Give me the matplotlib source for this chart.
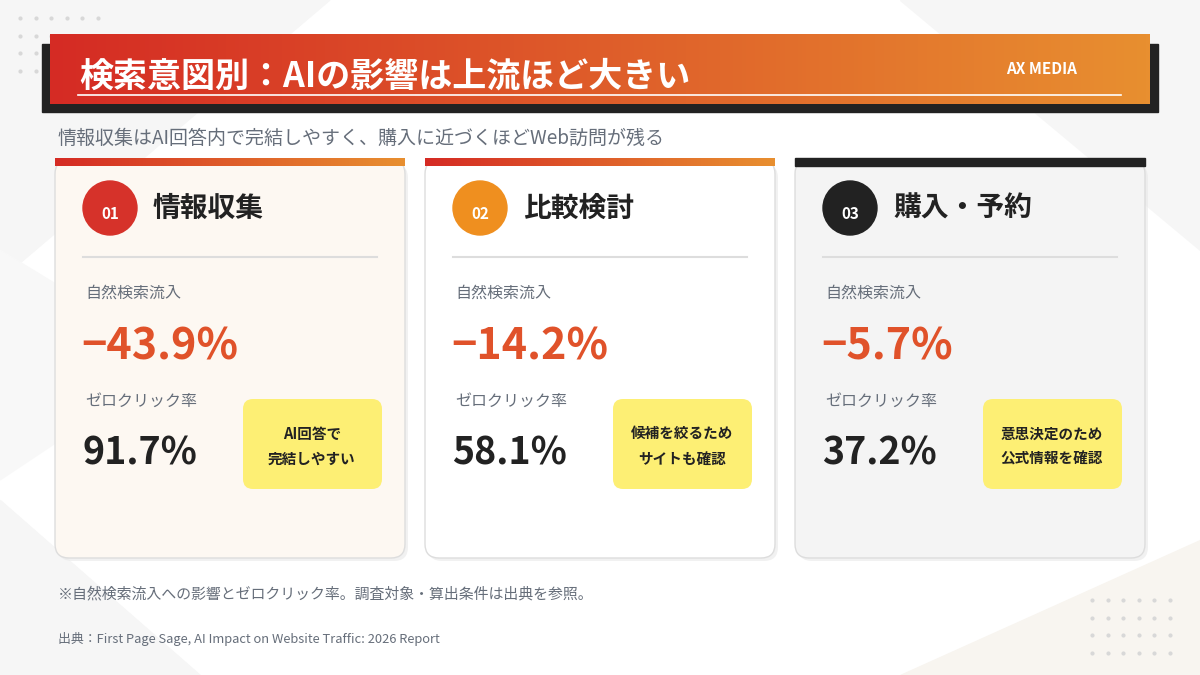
import numpy as np
import matplotlib.pyplot as plt
from matplotlib.patches import Rectangle, FancyBboxPatch, Circle, Polygon
from matplotlib.colors import LinearSegmentedColormap

plt.rcParams['font.family'] = ['Noto Sans CJK JP', 'DejaVu Sans']

title = '検索意図別：AIの影響は上流ほど大きい'
subtitle = '情報収集はAI回答内で完結しやすく、購入に近づくほどWeb訪問が残る'
stages = ['情報収集', '比較検討', '購入・予約']
numbers = ['01', '02', '03']
organic_change = [-43.9, -14.2, -5.7]
zero_click = [91.7, 58.1, 37.2]
notes = ['AI回答で\n完結しやすい', '候補を絞るため\nサイトも確認', '意思決定のため\n公式情報を確認']
footnote = '※自然検索流入への影響とゼロクリック率。調査対象・算出条件は出典を参照。'
source = '出典：First Page Sage, AI Impact on Website Traffic: 2026 Report'

circle_colors = ['#d6322a', '#ef8f1f', '#222222']
card_fills = ['#fdf8f2', '#ffffff', '#f4f4f4']

fig = plt.figure(figsize=(12, 6.75), dpi=100)
ax = fig.add_axes([0, 0, 1, 1])
ax.set_xlim(0, 1200)
ax.set_ylim(675, 0)
ax.axis('off')

# background shapes
ax.add_patch(Polygon([[0, 0], [330, 0], [0, 280]], color='#f6f6f6', zorder=0))
ax.add_patch(Polygon([[900, 0], [1200, 0], [1200, 250]], color='#f6f6f6', zorder=0))
ax.add_patch(Polygon([[0, 500], [0, 675], [200, 675]], color='#f6f6f6', zorder=0))
ax.add_patch(Polygon([[900, 675], [1200, 675], [1200, 540]], color='#f8f5f0', zorder=0))
ax.add_patch(Polygon([[0, 250], [0, 480], [180, 360]], color='#f8f8f8', zorder=0))
for gx, gy in [(20, 18), (1092, 600)]:
    xs, ys = np.meshgrid(np.arange(6) * 15.5 + gx, np.arange(4) * 17.5 + gy)
    ax.scatter(xs.ravel(), ys.ravel(), s=4, color='#d8d8d8', zorder=1)

# title bar
ax.add_patch(Rectangle((42, 44), 1116, 68, color='#222222', zorder=2))
grad = np.linspace(0, 1, 256).reshape(1, -1)
cmap = LinearSegmentedColormap.from_list('g', ['#d52b24', '#e88f30'])
ax.imshow(grad, extent=(50, 1150, 104, 34), cmap=cmap, aspect='auto', zorder=3)
ax.text(79, 76, title, color='white', fontsize=24.5, fontweight='bold', va='center', zorder=4)
ax.plot([78, 1121], [95, 95], color='white', lw=1.2, zorder=4)
ax.text(1041, 69, 'AX MEDIA', color='white', fontsize=11, fontweight='bold', va='center', ha='center', zorder=4)
ax.text(58, 138, subtitle, color='#666e7a', fontsize=13.7, va='center')

for i, x0 in enumerate([55, 425, 795]):
    w = 350
    ax.add_patch(FancyBboxPatch((x0 + 3, 164), w, 397, boxstyle='round,pad=0,rounding_size=14',
                                fc='#e8e8e8', ec='none', zorder=2, alpha=0.6))
    ax.add_patch(FancyBboxPatch((x0, 160), w, 398, boxstyle='round,pad=0,rounding_size=14',
                                fc=card_fills[i], ec='#dddddd', lw=1, zorder=3))
    if i < 2:
        ax.imshow(grad, extent=(x0, x0 + w, 166, 158), cmap=cmap, aspect='auto', zorder=4)
    else:
        ax.add_patch(Rectangle((x0, 158), w, 8, color='#222222', zorder=4))
    cx = x0 + 55
    ax.add_patch(Circle((cx, 208), 27, color=circle_colors[i], zorder=5))
    ax.text(cx, 214, numbers[i], color='white', fontsize=11, fontweight='bold',
            ha='center', va='center', zorder=6)
    ax.text(x0 + 98, 209, stages[i], color='#222222', fontsize=20, fontweight='bold',
            va='center', zorder=6)
    ax.plot([x0 + 28, x0 + 322], [257, 257], color='#dddddd', lw=1.5, zorder=5)
    ax.text(x0 + 30, 293, '自然検索流入', color='#666e7a', fontsize=11.5, va='center', zorder=6)
    ax.text(x0 + 26, 346, f'\u2212{abs(organic_change[i]):.1f}%', color='#e0522a',
            fontsize=31, fontweight='bold', va='center', zorder=6)
    ax.text(x0 + 30, 401, 'ゼロクリック率', color='#666e7a', fontsize=11.5, va='center', zorder=6)
    ax.text(x0 + 27, 453, f'{zero_click[i]:.1f}%', color='#222222', fontsize=27,
            fontweight='bold', va='center', zorder=6)
    ax.add_patch(FancyBboxPatch((x0 + 188, 399), 139, 90, boxstyle='round,pad=0,rounding_size=10',
                                fc='#fdef74', ec='none', zorder=5))
    ax.text(x0 + 257, 446, notes[i], color='#222222', fontsize=10.5, fontweight='bold',
            ha='center', va='center', linespacing=1.7, zorder=6)

ax.text(58, 594, footnote, color='#666e7a', fontsize=10.75, va='center')
ax.text(58, 639, source, color='#666e7a', fontsize=9.3, va='center')

fig.savefig('out.png', dpi=100)
